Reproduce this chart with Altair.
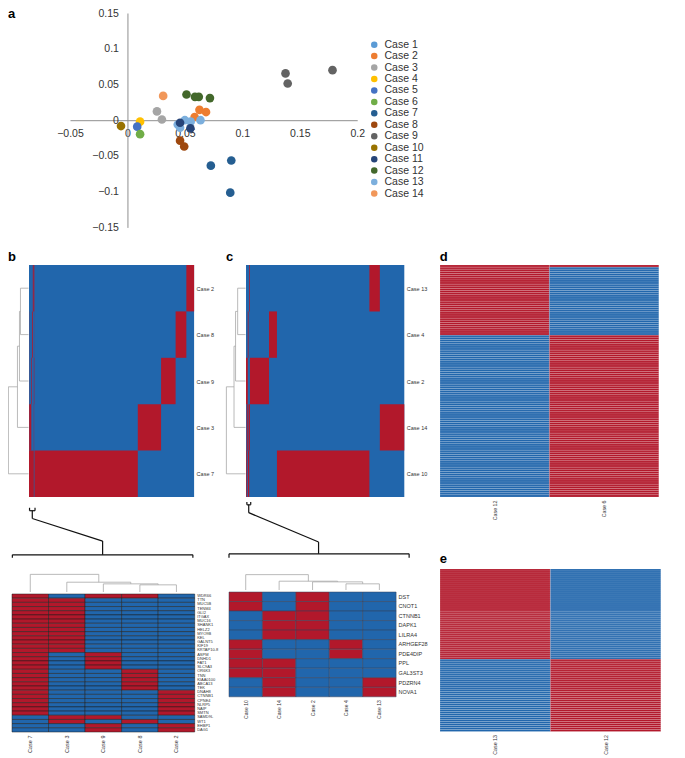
import json
import altair as alt
import pandas as pd

FX, FY = 0.977, 0.979
FONT = "Liberation Sans"
RED, BLUE = "#B2182B", "#2166AC"
TXT = "#333333"
CLEAR = "rgba(0,0,0,0)"

def W(a, b):
    return round((b - a) * FX, 1)

def H(a, b):
    return round((b - a) * FY, 1)

# ---------------- panel a : scatter ----------------
case_names = [f"Case {i}" for i in range(1, 15)]
case_colors = ["#5B9BD5", "#ED7D31", "#A5A5A5", "#FFC000", "#4472C4", "#70AD47", "#255E91",
               "#9E480E", "#636363", "#997300", "#264478", "#43682B", "#7CAFDD", "#F1975A"]
pt_case = ["Case 2", "Case 2", "Case 2", "Case 3", "Case 3", "Case 4", "Case 5", "Case 6",
           "Case 7", "Case 7", "Case 7", "Case 8", "Case 8", "Case 9", "Case 9", "Case 9",
           "Case 10", "Case 12", "Case 12", "Case 12", "Case 12", "Case 13", "Case 13",
           "Case 13", "Case 13", "Case 13", "Case 14", "Case 11", "Case 11"]
pt_x = [0.0585, 0.0627, 0.0684, 0.0257, 0.0300, 0.0110, 0.0085, 0.0110,
        0.0726, 0.0904, 0.0895, 0.0458, 0.0494, 0.1376, 0.1395, 0.1785,
        -0.0056, 0.0514, 0.0588, 0.0621, 0.0718, 0.0438, 0.0500,
        0.0550, 0.0636, 0.0458, 0.0311, 0.0458, 0.0548]
pt_y = [0.0045, 0.0145, 0.0114, 0.0123, 0.0010, -0.0020, -0.0090, -0.0195,
        -0.0636, -0.0564, -0.1014, -0.0286, -0.0368, 0.0655, 0.0514, 0.0700,
        -0.0082, 0.0359, 0.0327, 0.0327, 0.0309, -0.0060, 0.0000,
        -0.0020, 0.0000, -0.0105, 0.0340, -0.0036, -0.0114]
x_ticks = [-0.05, 0, 0.05, 0.1, 0.15, 0.2]
y_ticks = [-0.15, -0.1, -0.05, 0, 0.05, 0.1, 0.15]

# ---------------- panel b / bottom-left ----------------
b_rows = ["Case 2", "Case 8", "Case 9", "Case 3", "Case 7"]
b_total = 1000
b_block_case = ["Case 7", "Case 3", "Case 9", "Case 8", "Case 2"]
b_block_start = [33, 659, 800, 888, 953]
b_block_end = [659, 800, 888, 953, 1000]
b_merges = [("A", "Case 2", "Case 8", 0.40), ("B", "A", "Case 9", 0.45),
            ("C", "B", "Case 3", 0.55), ("D", "C", "Case 7", 1.0)]

bl_cases = ["Case 7", "Case 3", "Case 9", "Case 8", "Case 2"]
bl_genes = ["WDR66", "TTN", "MUC5B", "TENM4", "GLI2", "ITGAX", "MUC16", "SHANK1", "HELZ2",
            "MYO9B", "KEL", "GALNT5", "KIF19", "KRTAP10-8", "ASPM", "DNHD1", "FAT1", "SLC9A3",
            "OR6K3", "TNN", "KIAA0100", "ABCA13", "TEK", "DNAH8", "CTNNB1", "CPNE4", "NLRP5",
            "NAIP", "SMTN", "SAMD9L", "WT1", "EHBP1", "DAG1"]
bl_matrix = ["10110",
             "11000", "11000", "11000", "11000", "11000", "11000", "11000", "11000",
             "11000", "11000", "11000", "11000", "11000",
             "10100", "10100", "10100", "10100",
             "10010", "10010", "10010", "10010", "10010",
             "10001", "10001", "10001", "10001", "10001", "10001",
             "01100", "01010", "00101", "00101"]
bl_merges = [("A", "Case 8", "Case 2", 7.3), ("B", "Case 9", "A", 8.3),
             ("C", "Case 3", "B", 10.0), ("D", "Case 7", "C", 18.0)]
bl_bracket_x1 = [0.48, 0.48, 0.63, 0.555, 0.555, 2.48, 0.01, 0.01, 4.95]
bl_bracket_x2 = [0.63, 0.48, 0.63, 0.555, 2.48, 2.48, 4.95, 0.01, 4.95]
bl_bracket_y1 = [83, 83, 83, 83, 75, 52, 38, 38, 38]
bl_bracket_y2 = [83, 86, 86, 75, 52, 38, 38, 35, 35]

# ---------------- panel c / bottom-middle ----------------
c_rows = ["Case 13", "Case 4", "Case 2", "Case 14", "Case 10"]
c_total = 440
c_block_case = ["Case 2", "Case 4", "Case 10", "Case 13", "Case 14"]
c_block_start = [11, 64, 86, 343, 372]
c_block_end = [64, 86, 343, 372, 440]
c_merges = [("A", "Case 13", "Case 4", 0.41), ("B", "A", "Case 2", 0.52),
            ("C", "B", "Case 14", 0.60), ("D", "C", "Case 10", 1.0)]

bm_cases = ["Case 10", "Case 14", "Case 2", "Case 4", "Case 13"]
bm_genes = ["DST", "CNOT1", "CTNNB1", "DAPK1", "LILRA4", "ARHGEF28", "PDE4DIP", "PPL",
            "GAL3ST3", "PDZRN4", "NOVA1"]
bm_matrix = ["10100", "10100", "01100", "01100", "01100", "10010", "10010", "11000",
             "11000", "01001", "01001"]
bm_merges = [("A", "Case 4", "Case 13", 6.3), ("B", "Case 2", "A", 8.3),
             ("C", "Case 14", "B", 9.0), ("D", "Case 10", "C", 15.7)]
bm_bracket_x1 = [0.535, 0.535, 0.65, 0.59, 0.59, 2.68, 0.0, 0.0, 5.39]
bm_bracket_x2 = [0.65, 0.535, 0.65, 0.59, 2.68, 2.68, 5.39, 0.0, 5.39]
bm_bracket_y1 = [87, 87, 87, 87, 79, 49, 37, 37, 37]
bm_bracket_y2 = [87, 90, 90, 79, 49, 37, 37, 33, 33]

# ---------------- panels d / e ----------------
d_cols = ["Case 12", "Case 6"]
d_block_start = [0, 1, 33]
d_block_end = [1, 33, 109]
d_block_vals = ["11", "10", "01"]
e_cols = ["Case 13", "Case 12"]
e_block_start = [0, 45]
e_block_end = [45, 81]
e_block_vals = ["10", "01"]

COLOR_SCALE = alt.Scale(domain=["wt", "mut"], range=[BLUE, RED])


def panel_title(t, offset, color="black"):
    return alt.TitleParams(text=t, anchor="start", fontSize=13, fontWeight="bold",
                           font=FONT, color=color, offset=offset)


def spacer(w, h, title=None):
    c = alt.Chart(pd.DataFrame({"z": [0]})).mark_point(opacity=0, size=1, strokeWidth=0).encode(
        x=alt.X("z:Q", scale=alt.Scale(domain=[-1, 1]), axis=None),
        y=alt.Y("z:Q", scale=alt.Scale(domain=[-1, 1]), axis=None))
    if title is not None:
        return c.properties(width=w, height=h, title=title)
    return c.properties(width=w, height=h)


def dendro_segments(leaves, merges):
    pos = {l: i + 0.5 for i, l in enumerate(leaves)}
    hgt = {l: 0.0 for l in leaves}
    segs = []
    for name, c1, c2, h in merges:
        p1, p2 = pos[c1], pos[c2]
        segs.append(dict(p1=p1, p2=p2, h1=h, h2=h))
        segs.append(dict(p1=p1, p2=p1, h1=hgt[c1], h2=h))
        segs.append(dict(p1=p2, p2=p2, h1=hgt[c2], h2=h))
        pos[name] = (p1 + p2) / 2
        hgt[name] = h
    return pd.DataFrame(segs)


def row_dendro(leaves, merges, w, h, title):
    df = dendro_segments(leaves, merges)
    return alt.Chart(df).mark_rule(color="#a8a8a8", strokeWidth=0.8).encode(
        x=alt.X("h1:Q", scale=alt.Scale(domain=[1.02, 0.0], nice=False, zero=False), axis=None),
        x2="h2:Q",
        y=alt.Y("p1:Q", scale=alt.Scale(domain=[len(leaves), 0], nice=False, zero=False), axis=None),
        y2="p2:Q",
    ).properties(width=w, height=h, title=title)


def col_dendro(leaves, merges, bx1, bx2, by1, by2, ymax, w, h):
    df = dendro_segments(leaves, merges)
    br = pd.DataFrame({"p1": bx1, "p2": bx2, "h1": by1, "h2": by2})
    xs = alt.Scale(domain=[0, len(leaves)], nice=False, zero=False)
    ys = alt.Scale(domain=[0, ymax], nice=False, zero=False)
    den = alt.Chart(df).mark_rule(color="#a8a8a8", strokeWidth=0.8).encode(
        x=alt.X("p1:Q", scale=xs, axis=None), x2="p2:Q",
        y=alt.Y("h1:Q", scale=ys, axis=None), y2="h2:Q")
    brk = alt.Chart(br).mark_rule(color="#111111", strokeWidth=1.2).encode(
        x=alt.X("p1:Q", scale=xs, axis=None), x2="p2:Q",
        y=alt.Y("h1:Q", scale=ys, axis=None), y2="h2:Q")
    return alt.layer(den, brk).properties(width=w, height=h)


def seg_heat(rows, total, shared_cases, shared_matrix, block_case, block_start, block_end, w, h, title):
    n = len(rows)
    recs = [dict(x1=0, x2=total, y1=0, y2=n, v="wt")]
    for i, r in enumerate(rows):
        bi = block_case.index(r)
        recs.append(dict(x1=block_start[bi], x2=block_end[bi], y1=i, y2=i + 1, v="mut"))
        ci = shared_cases.index(r)
        g = 0
        while g < len(shared_matrix):
            if shared_matrix[g][ci] == "1":
                s = g
                while g < len(shared_matrix) and shared_matrix[g][ci] == "1":
                    g += 1
                recs.append(dict(x1=s, x2=g, y1=i, y2=i + 1, v="mut"))
            else:
                g += 1
    df = pd.DataFrame(recs)
    label_expr = json.dumps(rows) + "[floor(datum.value)]"
    return alt.Chart(df).mark_rect().encode(
        x=alt.X("x1:Q", scale=alt.Scale(domain=[0, total], nice=False, zero=False), axis=None),
        x2="x2:Q",
        y=alt.Y("y1:Q", scale=alt.Scale(domain=[n, 0], nice=False, zero=False),
                axis=alt.Axis(orient="right", values=[i + 0.5 for i in range(n)], labelExpr=label_expr,
                              domain=False, ticks=False, grid=False, labelPadding=2, labelFontSize=5.5,
                              labelColor=TXT, labelFont=FONT, title=None, labelOverlap=False)),
        y2="y2:Q",
        color=alt.Color("v:N", scale=COLOR_SCALE, legend=None),
    ).properties(width=w, height=h, title=title)


def matrix_heat(genes, cases, matrix, w, h, ylab_size, xlab_size, stroke, sw):
    recs = []
    for gi, g in enumerate(genes):
        for ci, c in enumerate(cases):
            recs.append(dict(gene=g, case=c, v="mut" if matrix[gi][ci] == "1" else "wt"))
    df = pd.DataFrame(recs)
    return alt.Chart(df).mark_rect(stroke=stroke, strokeWidth=sw).encode(
        x=alt.X("case:N", sort=cases, scale=alt.Scale(paddingInner=0, paddingOuter=0),
                axis=alt.Axis(orient="bottom", labelAngle=270, labelAlign="right", labelBaseline="middle",
                              domain=False, ticks=False, labelPadding=3, labelFontSize=xlab_size,
                              labelColor=TXT, labelFont=FONT, title=None)),
        y=alt.Y("gene:N", sort=genes, scale=alt.Scale(paddingInner=0, paddingOuter=0),
                axis=alt.Axis(orient="right", domain=False, ticks=False, labelPadding=2,
                              labelFontSize=ylab_size, labelColor=TXT, labelFont=FONT, title=None,
                              labelOverlap=False)),
        color=alt.Color("v:N", scale=COLOR_SCALE, legend=None),
    ).properties(width=w, height=h)


def block_heat(cols, bstart, bend, bvals, w, h, title):
    recs = []
    n = bend[-1]
    for s, e, vals in zip(bstart, bend, bvals):
        for r in range(s, e):
            for ci, c in enumerate(cols):
                recs.append(dict(r1=r, r2=r + 1, col=c, v="mut" if vals[ci] == "1" else "wt"))
    df = pd.DataFrame(recs)
    return alt.Chart(df).mark_rect(stroke="#ffffff", strokeOpacity=0.3, strokeWidth=0.5).encode(
        x=alt.X("col:N", sort=cols, scale=alt.Scale(paddingInner=0, paddingOuter=0),
                axis=alt.Axis(orient="bottom", labelAngle=270, labelAlign="right", labelBaseline="middle",
                              domain=False, ticks=False, labelPadding=3, labelFontSize=5.3,
                              labelColor=TXT, labelFont=FONT, title=None)),
        y=alt.Y("r1:Q", scale=alt.Scale(domain=[n, 0], nice=False, zero=False), axis=None),
        y2="r2:Q",
        color=alt.Color("v:N", scale=COLOR_SCALE, legend=None),
    ).properties(width=w, height=h, title=title)


# ---------------- panel a ----------------
Wa, Ha = W(63, 357), H(6, 225)
a_df = pd.DataFrame({"case": pt_case, "pc1": pt_x, "pc2": pt_y, "ord": list(range(len(pt_x)))})
axis_common = dict(grid=False, ticks=False, domainColor="#8f8f8f", domainWidth=1, labelColor=TXT,
                   labelFontSize=10.5, labelFont=FONT, title=None, labelFlush=False,
                   labelOverlap=False, labelBound=False, format=".2~f")
a_chart = alt.Chart(a_df).mark_circle(size=75, opacity=1).encode(
    x=alt.X("pc1:Q", scale=alt.Scale(domain=[-0.05, 0.2], nice=False, zero=False),
            axis=alt.Axis(values=x_ticks, offset=-Ha / 2, labelPadding=8, **axis_common)),
    y=alt.Y("pc2:Q", scale=alt.Scale(domain=[-0.15, 0.15], nice=False, zero=False),
            axis=alt.Axis(values=y_ticks, offset=-Wa / 5, labelPadding=9, **axis_common)),
    color=alt.Color("case:N", scale=alt.Scale(domain=case_names, range=case_colors),
                    legend=alt.Legend(title=None, orient="none", legendX=361, legendY=26.4,
                                      labelFontSize=10.5, labelFont=FONT, labelColor=TXT,
                                      symbolType="circle", symbolSize=42, rowPadding=0.45,
                                      labelOffset=5)),
    order=alt.Order("ord:Q"),
).properties(width=Wa, height=Ha)

row1 = alt.hconcat(spacer(47.9, 236.3, panel_title("a", -8)), a_chart, spacing=0)

# ---------------- lower part: three columns ----------------
hr2 = H(264, 501)
dendro_b = row_dendro(b_rows, b_merges, W(0, 21), hr2, panel_title("b", 1))
heat_b = seg_heat(b_rows, b_total, bl_cases, bl_matrix, b_block_case, b_block_start, b_block_end,
                  W(21, 190), hr2, panel_title("b", 1, CLEAR))
bl_top = col_dendro(bl_cases, bl_merges, bl_bracket_x1, bl_bracket_x2, bl_bracket_y1, bl_bracket_y2,
                    97, W(3, 190), H(501, 598))
bl_heat = matrix_heat(bl_genes, bl_cases, bl_matrix, W(3, 190), H(598, 739), 4.0, 5.5, "#1e1e1e", 0.5)
colB = alt.vconcat(
    alt.hconcat(dendro_b, heat_b, spacing=0),
    alt.hconcat(spacer(W(0, 3), 5), bl_top, spacing=0),
    alt.hconcat(spacer(W(0, 3), 5), bl_heat, spacing=0),
    spacing=0)

dendro_c = row_dendro(c_rows, c_merges, W(223, 243), hr2, panel_title("c", 1))
heat_c = seg_heat(c_rows, c_total, bm_cases, bm_matrix, c_block_case, c_block_start, c_block_end,
                  W(243, 405), hr2, panel_title("c", 1, CLEAR))
bm_top = col_dendro(bm_cases, bm_merges, bm_bracket_x1, bm_bracket_x2, bm_bracket_y1, bm_bracket_y2,
                    95, W(225, 396), H(501, 596))
bm_heat = matrix_heat(bm_genes, bm_cases, bm_matrix, W(225, 396), H(596, 703), 5.5, 5.0, "#34405a", 0.5)
colC = alt.vconcat(
    alt.hconcat(dendro_c, heat_c, spacing=0),
    alt.hconcat(spacer(W(223, 225), 5), bm_top, spacing=0),
    alt.hconcat(spacer(W(223, 225), 5), bm_heat, spacing=0),
    spacing=0)

heat_d = block_heat(d_cols, d_block_start, d_block_end, d_block_vals, W(442, 666), hr2,
                    panel_title("d", 1))
heat_e = block_heat(e_cols, e_block_start, e_block_end, e_block_vals, W(442, 668), H(573, 739),
                    panel_title("e", 3))
colDE = alt.vconcat(heat_d, spacer(W(442, 668), 32), heat_e, spacing=0)

lower = alt.hconcat(colB, spacer(6.7, 10), colC, spacer(10.9, 10), colDE, spacing=0)

chart = alt.vconcat(row1, lower, spacing=0, padding=0).resolve_scale(
    color="independent").configure(font=FONT).configure_view(stroke=None, strokeWidth=0)

chart.save("out.html", embed_options={"renderer": "svg", "actions": False})
